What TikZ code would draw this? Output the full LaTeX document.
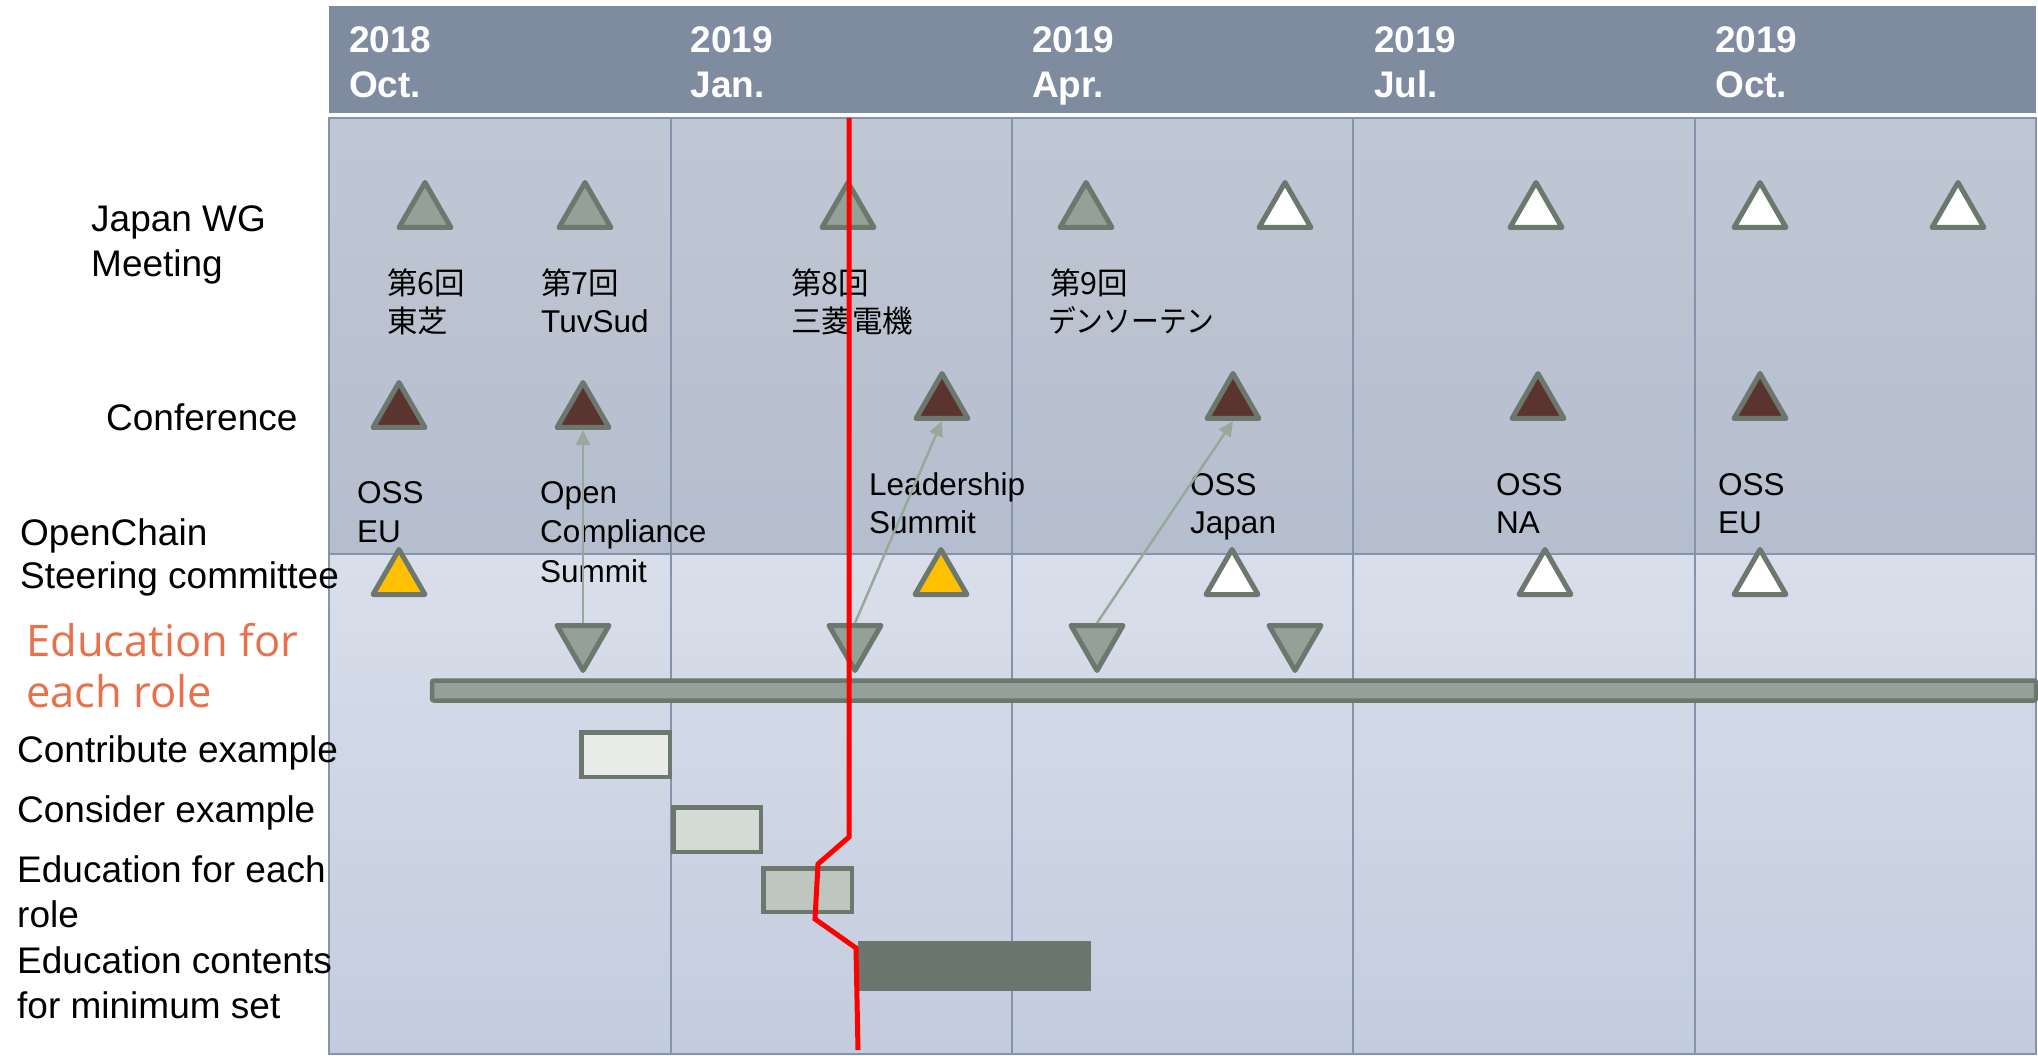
\documentclass[tikz,border=0pt]{standalone}
\usepackage{fontspec}
\setmainfont{Liberation Sans}
\newfontfamily\jpfont{Noto Sans CJK JP}
\newfontfamily\jpnarrow[FakeStretch=0.91]{Noto Sans CJK JP}
\newfontfamily\orfont{Open Sans}
\usetikzlibrary{shapes.geometric,arrows.meta}
\definecolor{hdr}{HTML}{7F8CA0}
\definecolor{upTop}{HTML}{C0C7D4}
\definecolor{upBot}{HTML}{B5BECE}
\definecolor{loTop}{HTML}{D9DFEA}
\definecolor{loBot}{HTML}{C3CCDE}
\definecolor{gridc}{HTML}{8594AB}
\definecolor{triS}{HTML}{6C776E}
\definecolor{triG}{HTML}{93A198}
\definecolor{confB}{HTML}{5C342F}
\definecolor{scY}{HTML}{FFC000}
\definecolor{arrc}{HTML}{98A89C}
\definecolor{orng}{HTML}{E8704A}
\definecolor{boxA}{HTML}{E9EBE9}
\definecolor{boxB}{HTML}{D4DAD4}
\definecolor{boxC}{HTML}{BFC6BF}
\definecolor{boxD}{HTML}{6B776E}
\begin{document}
\begin{tikzpicture}[x=1pt,y=-1pt,
  tri/.style={regular polygon, regular polygon sides=3, minimum size=60pt, inner sep=0pt, draw=triS, line width=5pt, line join=round},
  tridown/.style={tri, shape border rotate=180},
  hd/.style={anchor=base west, inner sep=0pt, text=white, font=\bfseries\fontsize{37}{44}\selectfont},
  lab/.style={anchor=base west, inner sep=0pt, font=\fontsize{37}{44}\selectfont},
  sm/.style={anchor=base west, inner sep=0pt, font=\fontsize{31.5}{38}\selectfont},
  jp/.style={anchor=base west, inner sep=0pt, font=\jpfont\fontsize{30.5}{38}\selectfont},
  jpn/.style={anchor=base west, inner sep=0pt, font=\jpnarrow\fontsize{30.5}{38}\selectfont},
  orlab/.style={anchor=base west, inner sep=0pt, text=orng, font=\orfont\fontsize{43.5}{52}\selectfont},
  taskbox/.style={rectangle, draw=triS, line width=4.5pt, inner sep=0pt},
  conn/.style={draw=arrc, line width=2.5pt, -{Triangle[width=14pt,length=15pt]}},
  gridline/.style={draw=gridc, line width=2pt}
]
\useasboundingbox (0,0) rectangle (2038,1056);
\fill[white] (0,0) rectangle (2038,1056);
% header
\fill[hdr] (329,6) rectangle (2036,113);
% body regions
\shade[top color=upTop, bottom color=upBot] (329,118) rectangle (2036,554);
\shade[top color=loTop, bottom color=loBot] (329,554) rectangle (2036,1054);
% grid
\foreach \gx in {671,1012,1353,1695} \draw[gridline] (\gx,118) -- (\gx,1054);
\draw[gridline] (329,554) -- (2036,554);
\draw[gridline] (329,118) rectangle (2036,1054);
% header labels
\node[hd] (y1) at (349,53) {2018}; \node[hd] (m1) at (349,98) {Oct.};
\node[hd] (y2) at (690.5,53) {2019}; \node[hd] (m2) at (690.5,98) {Jan.};
\node[hd] (y3) at (1032,53) {2019}; \node[hd] (m3) at (1032,98) {Apr.};
\node[hd] (y4) at (1374,53) {2019}; \node[hd] (m4) at (1374,98) {Jul.};
\node[hd] (y5) at (1715,53) {2019}; \node[hd] (m5) at (1715,98) {Oct.};
% left labels
\node[lab] (l1a) at (91,232) {Japan WG};
\node[lab] (l1b) at (91,277) {Meeting};
\node[lab] (l2) at (106,431) {Conference};
\node[lab] (l3a) at (20,545) {OpenChain};
\node[lab] (l3b) at (20,588) {Steering committee};
\node[orlab] (l4a) at (26,656) {Education for};
\node[orlab] (l4b) at (26,707) {each role};
\node[lab] (l5) at (17,762) {Contribute example};
\node[lab] (l6) at (17,822) {Consider example};
\node[lab] (l7a) at (17,882) {Education for each};
\node[lab] (l7b) at (17,927) {role};
\node[lab] (l8a) at (17,973) {Education contents};
\node[lab] (l8b) at (17,1018) {for minimum set};
% WG meeting triangles
\node[tri, fill=triG] (w1) at (425,212.5) {};
\node[tri, fill=triG] (w2) at (585,212.5) {};
\node[tri, fill=triG] (w3) at (848,212.5) {};
\node[tri, fill=triG] (w4) at (1086,212.5) {};
\node[tri, fill=white] (w5) at (1285,212.5) {};
\node[tri, fill=white] (w6) at (1536,212.5) {};
\node[tri, fill=white] (w7) at (1760,212.5) {};
\node[tri, fill=white] (w8) at (1958,212.5) {};
% WG texts
\node[jp] (t6a) at (387,295) {第6回}; \node[jp] (t6b) at (387,333) {東芝};
\node[jp] (t7a) at (541,295) {第7回}; \node[sm] (t7b) at (541,333) {TuvSud};
\node[jp] (t8a) at (791,295) {第8回}; \node[jp] (t8b) at (791,333) {三菱電機};
\node[jp] (t9a) at (1050,295) {第9回}; \node[jpn] (t9b) at (1048,333) {デンソーテン};
% conference triangles
\node[tri, fill=confB] (c1) at (399,412.5) {};
\node[tri, fill=confB] (c2) at (583,412.5) {};
\node[tri, fill=confB] (c3) at (942,403.5) {};
\node[tri, fill=confB] (c4) at (1233,403.5) {};
\node[tri, fill=confB] (c5) at (1538,403.5) {};
\node[tri, fill=confB] (c6) at (1760,403.5) {};
% conference texts
\node[sm] (o1a) at (357,503) {OSS}; \node[sm] (o1b) at (357,542) {EU};
\node[sm] (o2a) at (540,503) {Open}; \node[sm] (o2b) at (540,542) {Compliance}; \node[sm] (o2c) at (540,582) {Summit};
\node[sm] (o3a) at (869,495) {Leadership}; \node[sm] (o3b) at (869,533) {Summit};
\node[sm] (o4a) at (1190,495) {OSS}; \node[sm] (o4b) at (1190,533) {Japan};
\node[sm] (o5a) at (1496,495) {OSS}; \node[sm] (o5b) at (1496,533) {NA};
\node[sm] (o6a) at (1718,495) {OSS}; \node[sm] (o6b) at (1718,533) {EU};
% steering committee triangles
\node[tri, fill=scY] (s1) at (399,579.5) {};
\node[tri, fill=scY] (s2) at (941,579.5) {};
\node[tri, fill=white] (s3) at (1232,579.5) {};
\node[tri, fill=white] (s4) at (1545,579.5) {};
\node[tri, fill=white] (s5) at (1760,579.5) {};
% education down triangles
\node[tridown, fill=triG] (d1) at (583,640.5) {};
\node[tridown, fill=triG] (d2) at (855,640.5) {};
\node[tridown, fill=triG] (d3) at (1097,640.5) {};
\node[tridown, fill=triG] (d4) at (1295,640.5) {};
% main bar
\draw[draw=triS, fill=triG, line width=4.5pt, rounded corners=2pt] (432,680.5) rectangle (2036,700.5);
% task boxes
\node[taskbox, fill=boxA, minimum width=88.5pt, minimum height=44.5pt] (b1) at (625.5,754.5) {};
\node[taskbox, fill=boxB, minimum width=87.5pt, minimum height=44.5pt] (b2) at (717,829.5) {};
\node[taskbox, fill=boxC, minimum width=88.5pt, minimum height=43.5pt] (b3) at (807.5,890) {};
\node[taskbox, draw=boxD, fill=boxD, minimum width=228.5pt, minimum height=45.5pt] (b4) at (974.5,966) {};
% connectors
\draw[conn] (d1.north) -- (c2.south);
\draw[conn] (d2.north) -- (c3.south);
\draw[conn] (d3.north) -- (c4.south);
% red progress line
\coordinate (r0) at (849,118);
\coordinate (r1) at (849,837);
\coordinate (r2) at (818,864);
\coordinate (r3) at (815,919);
\coordinate (r4) at (856,948);
\coordinate (r5) at (858,1050);
\draw[red, line width=5pt] (r0) -- (r1) -- (r2) -- (r3) -- (r4) -- (r5);
\end{tikzpicture}
\end{document}
